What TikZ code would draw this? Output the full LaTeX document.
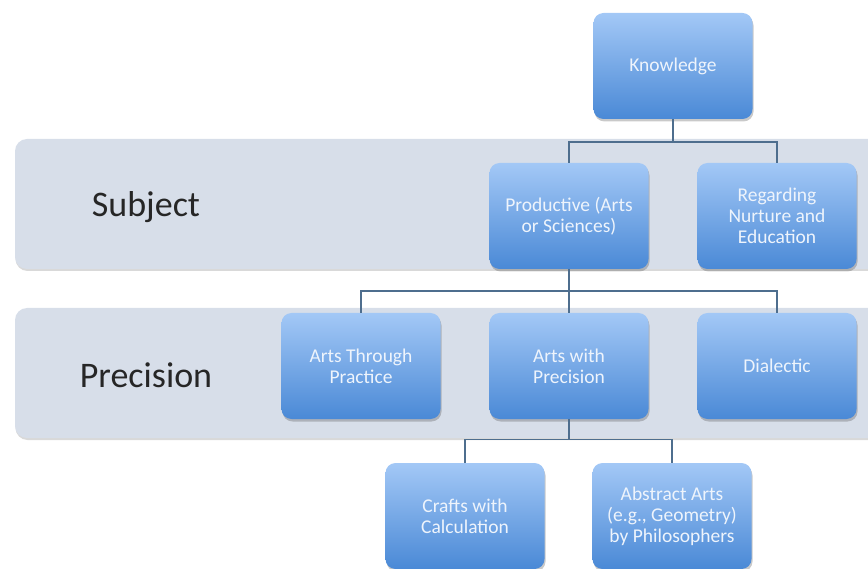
\documentclass[tikz,border=0pt]{standalone}
\usepackage{fontspec}
\setmainfont{Carlito}
\usetikzlibrary{shadows,calc}
\definecolor{bandfill}{HTML}{D7DEE9}
\definecolor{boxtop}{HTML}{A3C8F6}
\definecolor{boxbot}{HTML}{4A89D6}
\definecolor{linkc}{HTML}{4E6E8E}
\definecolor{boxtext}{HTML}{EEF4FC}
\tikzset{
  band/.style={fill=bandfill, draw=none, rounded corners=12pt,
    drop shadow={shadow xshift=0.5pt, shadow yshift=-2pt, opacity=0.25, fill=black!60}},
  bandlabel/.style={font=\fontsize{36}{40}\selectfont, text=black!85},
  topic/.style={rectangle, rounded corners=10pt, minimum width=159pt, minimum height=106pt,
    top color=boxtop, bottom color=boxbot, draw=none, inner sep=2pt,
    text=boxtext, align=center, font=\fontsize{19.5}{21}\selectfont,
    drop shadow={shadow xshift=1pt, shadow yshift=-2.5pt, opacity=0.3, fill=black!70}},
  link/.style={draw=linkc, line width=1.4pt}
}
\begin{document}
\begin{tikzpicture}[x=1pt,y=-1pt]
\useasboundingbox (0,0) rectangle (868,569);
% bands
\path[band] (15,139) rectangle (900,269);
\path[band] (15,308) rectangle (900,438);
\node[bandlabel] (lsub) at (146,207) {Subject};
\node[bandlabel] (lpre) at (146,375) {Precision};
% boxes
\node[topic] (K) at (673,66) {Knowledge};
\node[topic] (P) at (569,216) {Productive (Arts\\or Sciences)};
\node[topic] (R) at (777,216) {Regarding\\Nurture and\\Education};
\node[topic] (A1) at (361,366) {Arts Through\\Practice};
\node[topic] (A2) at (569,366) {Arts with\\Precision};
\node[topic] (D) at (777,366) {Dialectic};
\node[topic] (C) at (465,516) {Crafts with\\Calculation};
\node[topic] (AB) at (672,516) {Abstract Arts\\(e.g., Geometry)\\by Philosophers};
% connectors
\draw[link] (K.south) -- ++(0,23) coordinate (k1) -| (P.north);
\draw[link] (k1) -| (R.north);
\draw[link] (P.south) -- ++(0,22) coordinate (p1) -| (A1.north);
\draw[link] (p1) -| (A2.north);
\draw[link] (p1) -| (D.north);
\draw[link] (A2.south) -- ++(0,20) coordinate (a1) -| (C.north);
\draw[link] (a1) -| (AB.north);
\end{tikzpicture}
\end{document}
